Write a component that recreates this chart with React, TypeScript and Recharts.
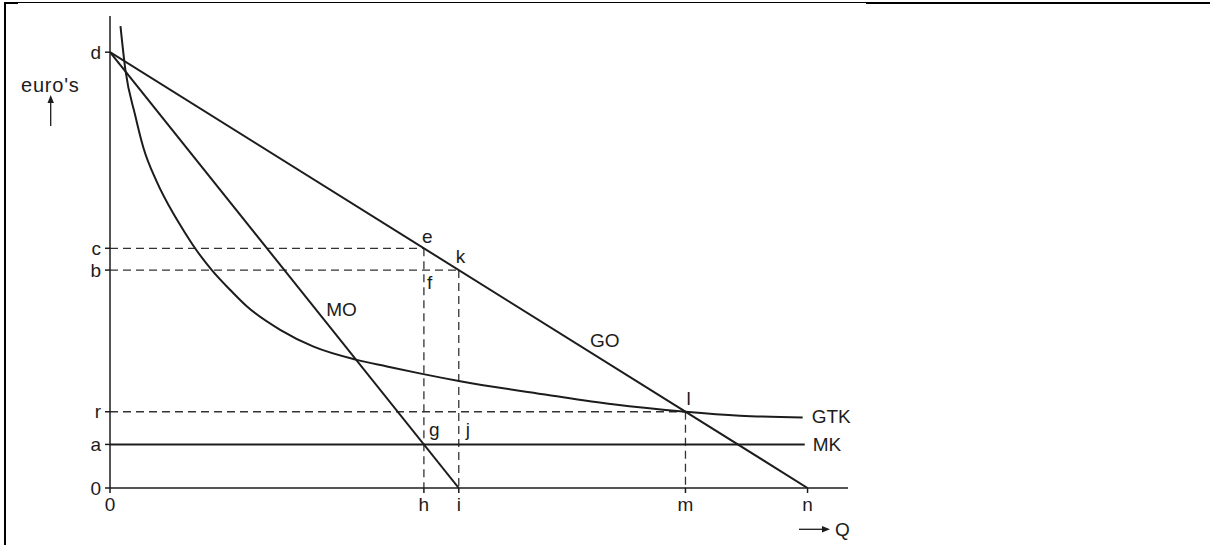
import React from 'react';
import { ComposedChart, Line, XAxis, YAxis, ReferenceLine, ReferenceDot } from 'recharts';

// price axis (euro's) ticks and their letters
const priceTicks = [0, 10, 17.5, 50, 55, 100];
const priceLetters = ['0', 'a', 'r', 'b', 'c', 'd'];

// quantity axis ticks and their letters
const quantityTicks = [0, 45, 50, 82.5, 100];
const quantityLetters = ['0', 'h', 'i', 'm', 'n'];

// GO (average revenue), MO (marginal revenue), MK (marginal cost)
const goLine = [
  { q: 0, p: 100 },
  { q: 100, p: 0 },
];
const moLine = [
  { q: 0, p: 100 },
  { q: 50, p: 0 },
];
const mkLine = [
  { q: 0, p: 10 },
  { q: 99.6, p: 10 },
];

// GTK (average total cost)
const gtkCurve = [
  { q: 1.5, p: 106 },
  { q: 2.2, p: 96 },
  { q: 3.6, p: 85.6 },
  { q: 4.8, p: 78 },
  { q: 6.7, p: 70.3 },
  { q: 9.1, p: 62.9 },
  { q: 10.5, p: 59.2 },
  { q: 12.2, p: 55 },
  { q: 14.6, p: 50 },
  { q: 17.2, p: 45.5 },
  { q: 19.6, p: 41.7 },
  { q: 24.4, p: 36.3 },
  { q: 29.1, p: 32.5 },
  { q: 35.4, p: 29.4 },
  { q: 39.7, p: 27.9 },
  { q: 44.4, p: 26.3 },
  { q: 50.2, p: 24.5 },
  { q: 62.6, p: 21.4 },
  { q: 72.1, p: 19.2 },
  { q: 82.5, p: 17.5 },
  { q: 90.3, p: 16.6 },
  { q: 99.3, p: 16.2 },
];

// dashed helper lines
const guides = [
  [{ x: 0, y: 55 }, { x: 45, y: 55 }],
  [{ x: 0, y: 50 }, { x: 50, y: 50 }],
  [{ x: 0, y: 17.5 }, { x: 82.5, y: 17.5 }],
  [{ x: 45, y: 55 }, { x: 45, y: 0 }],
  [{ x: 50, y: 50 }, { x: 50, y: 0 }],
  [{ x: 82.5, y: 17.5 }, { x: 82.5, y: 0 }],
];

// letters at points and curve names
const pointLabels = [
  { text: 'e', q: 45, p: 55, dx: -2, dy: -5 },
  { text: 'k', q: 50, p: 50, dx: -3, dy: -7 },
  { text: 'f', q: 45, p: 50, dx: 3, dy: 19 },
  { text: 'g', q: 45, p: 10, dx: 5, dy: -8 },
  { text: 'j', q: 50, p: 10, dx: 7, dy: -8 },
  { text: 'l', q: 82.5, p: 17.5, dx: 1, dy: -7 },
  { text: 'MO', q: 31, p: 39.5, dx: 0, dy: 0 },
  { text: 'GO', q: 68.8, p: 32.4, dx: 0, dy: 0 },
  { text: 'GTK', q: 99.3, p: 16.2, dx: 9, dy: 6 },
  { text: 'MK', q: 99.6, p: 10, dx: 8, dy: 7 },
];

const ink = '#1c1c1c';
const font = '"Liberation Sans", Arial, sans-serif';

const letterFor = (ticks: number[], letters: string[]) => (v: number) => {
  const i = ticks.indexOf(v);
  return i >= 0 ? letters[i] : '';
};

export default function App() {
  return (
    <div style={{ position: 'fixed', left: 0, top: 0, width: 1210, height: 545, background: '#fff' }}>
      {/* page frame */}
      <div style={{ position: 'absolute', left: 4, top: 2, width: 1206, height: 543, borderLeft: '2px solid #000', borderTop: '1px solid #000' }} />
      <div style={{ position: 'absolute', left: 4, top: 2, width: 14, height: 2, background: '#000' }} />
      <div style={{ position: 'absolute', left: 866, top: 2, width: 344, height: 2, background: '#000' }} />

      <ComposedChart
        width={1210}
        height={545}
        margin={{ top: 16, right: 362, bottom: 27, left: 70 }}
        style={{ fontFamily: font }}
      >
        <XAxis
          dataKey="q"
          type="number"
          domain={[0, 105.8]}
          allowDataOverflow
          ticks={quantityTicks}
          interval={0}
          tickFormatter={letterFor(quantityTicks, quantityLetters)}
          height={30}
          tickSize={5}
          tickMargin={5}
          stroke={ink}
          strokeWidth={1.5}
          tick={{ fontSize: 19, fill: ink, fontFamily: font }}
        />
        <YAxis
          dataKey="p"
          type="number"
          domain={[0, 108.3]}
          allowDataOverflow
          ticks={priceTicks}
          interval={0}
          tickFormatter={letterFor(priceTicks, priceLetters)}
          width={40}
          tickSize={5}
          tickMargin={4}
          stroke={ink}
          strokeWidth={1.5}
          tick={{ fontSize: 19, fill: ink, fontFamily: font }}
        />

        {guides.map((seg, i) => (
          <ReferenceLine
            key={i}
            segment={seg}
            stroke="#333"
            strokeWidth={1.3}
            strokeDasharray="8 5"
            ifOverflow="visible"
          />
        ))}

        <Line data={goLine} dataKey="p" stroke={ink} strokeWidth={2} dot={false} isAnimationActive={false} />
        <Line data={moLine} dataKey="p" stroke={ink} strokeWidth={2} dot={false} isAnimationActive={false} />
        <Line data={mkLine} dataKey="p" stroke={ink} strokeWidth={2} dot={false} isAnimationActive={false} />
        <Line
          data={gtkCurve}
          dataKey="p"
          type="monotone"
          stroke={ink}
          strokeWidth={2}
          dot={false}
          isAnimationActive={false}
        />

        {pointLabels.map((l) => (
          <ReferenceDot
            key={l.text}
            x={l.q}
            y={l.p}
            r={0}
            fill="none"
            stroke="none"
            ifOverflow="visible"
            label={(props: any) => (
              <text
                x={props.viewBox.x + l.dx}
                y={props.viewBox.y + l.dy}
                fontSize={19}
                fontFamily={font}
                fill={ink}
              >
                {l.text}
              </text>
            )}
          />
        ))}
      </ComposedChart>

      {/* axis titles with arrows */}
      <svg width={1210} height={545} style={{ position: 'absolute', left: 0, top: 0, pointerEvents: 'none' }}>
        <text x={21} y={92} fontSize={20} letterSpacing={0.8} fontFamily={font} fill={ink}>euro's</text>
        <line x1={50.7} y1={126} x2={50.7} y2={101} stroke={ink} strokeWidth={1.3} />
        <polygon points="50.7,95 47.5,103 53.9,103" fill={ink} />
        <line x1={799} y1={529.3} x2={823} y2={529.3} stroke={ink} strokeWidth={1.3} />
        <polygon points="830,529.3 822,526.1 822,532.5" fill={ink} />
        <text x={835} y={536} fontSize={19} fontFamily={font} fill={ink}>Q</text>
      </svg>
    </div>
  );
}
